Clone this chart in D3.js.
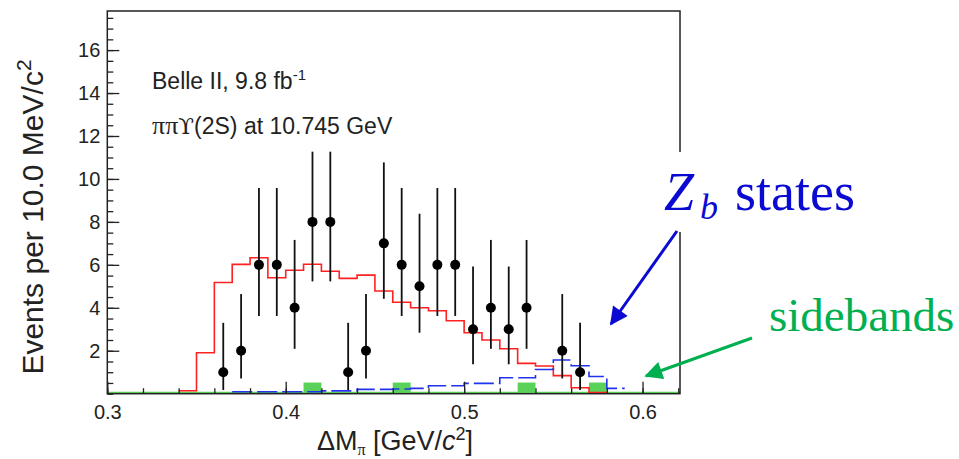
<!DOCTYPE html>
<html>
<head>
<meta charset="utf-8">
<script src="https://cdn.jsdelivr.net/npm/d3@7/dist/d3.min.js"></script>
<style>
  html, body { margin: 0; padding: 0; background: #fff; }
  svg { display: block; }
  text { font-family: "Liberation Sans", Arial, Helvetica, sans-serif; }
</style>
</head>
<body>
<svg id="chart" width="959" height="459"></svg>
<script>
// ΔM_π distribution: data, expected signal shapes and sideband estimate
const binWidth = 0.01;

// data points (bin centres, counts, asymmetric Poisson error limits)
const dataX     = [0.365, 0.375, 0.385, 0.395, 0.405, 0.415, 0.425, 0.435, 0.445, 0.455,
                   0.465, 0.475, 0.485, 0.495, 0.505, 0.515, 0.525, 0.535, 0.555, 0.565];
const dataCount = [1, 2, 6, 6, 4, 8, 8, 1, 2, 7, 6, 5, 6, 6, 3, 4, 3, 4, 2, 1];
const dataLow   = [0.17, 0.71, 3.62, 3.62, 2.09, 5.23, 5.23, 0.17, 0.71, 4.42,
                   3.62, 2.84, 3.62, 3.62, 1.37, 2.09, 1.37, 2.09, 0.71, 0.17];
const dataHigh  = [3.30, 4.64, 9.58, 9.58, 7.16, 11.27, 11.27, 3.30, 4.64, 10.77,
                   9.58, 8.38, 9.58, 9.58, 5.92, 7.16, 5.92, 7.16, 4.64, 3.30];

// non-resonant ππΥ(2S) shape (red), bins of 10 MeV starting at 0.34
const redStart  = 0.34;
const redValues = [0.14, 1.91, 5.18, 6.02, 6.33, 5.40, 5.75, 6.03, 5.70, 5.37, 5.52, 4.78,
                   4.26, 4.00, 3.86, 3.40, 2.84, 2.50, 2.09, 1.41, 1.29, 0.84, 0.28, 0.05];

// Z_b intermediate states shape (blue dashed), bins starting at 0.37
const blueStart  = 0.37;
const blueValues = [0.09, 0.09, 0.09, 0.09, 0.09, 0.13, 0.13, 0.20, 0.20, 0.22, 0.25,
                    0.37, 0.37, 0.48, 0.48, 0.74, 0.74, 1.13, 1.57, 1.30, 0.80, 0.25];

// sideband estimate (green filled bins)
const sideEdges = [0.41, 0.46, 0.53, 0.57];
const sideValue = [0.52, 0.52, 0.52, 0.52];

// axis ticks
const xMajor = [0.3, 0.4, 0.5, 0.6];
const xMinor = d3.range(0.30, 0.6201, 0.02);
const yMajor = [2, 4, 6, 8, 10, 12, 14, 16];
const yMinor = d3.range(0, 17.81, 0.5);

const svg = d3.select("#chart");
const x = d3.scaleLinear().domain([0.3, 0.621]).range([107.3, 680]);
const y = d3.scaleLinear().domain([0, 17.82]).range([393.7, 11]);

// helper: outline of a histogram as a step path
function stepPoints(start, values) {
  const pts = values.map((v, i) => [start + i * binWidth, v]);
  pts.push([start + values.length * binWidth, values[values.length - 1]]);
  return pts;
}
const stepLine = d3.line().x(d => x(d[0])).y(d => y(d[1])).curve(d3.curveStepAfter);

// green baseline of the sideband histogram
svg.append("line")
  .attr("x1", x(0.3)).attr("x2", x(0.621))
  .attr("y1", y(0) - 1).attr("y2", y(0) - 1)
  .attr("stroke", "#5ad25a").attr("stroke-width", 2);

// sideband bins
svg.append("g").selectAll("rect").data(sideEdges).join("rect")
  .attr("x", d => x(d))
  .attr("width", d => x(d + binWidth) - x(d))
  .attr("y", (d, i) => y(sideValue[i]))
  .attr("height", (d, i) => y(0) - y(sideValue[i]))
  .attr("fill", "#5ad25a");

// red histogram
svg.append("path")
  .attr("d", stepLine(stepPoints(redStart, redValues)))
  .attr("fill", "none").attr("stroke", "#ff2020").attr("stroke-width", 1.6);

// blue dashed histogram
svg.append("path")
  .attr("d", stepLine(stepPoints(blueStart, blueValues)))
  .attr("fill", "none").attr("stroke", "#2233ee").attr("stroke-width", 1.6)
  .attr("stroke-dasharray", "20,5");

// axes with inward ticks
const xAxisMinor = d3.axisBottom(x).tickValues(xMinor).tickSize(-5.5).tickSizeOuter(0).tickFormat("");
const xAxisMajor = d3.axisBottom(x).tickValues(xMajor).tickSize(-12).tickSizeOuter(0)
  .tickPadding(11).tickFormat(d3.format(".1f"));
const yAxisMinor = d3.axisLeft(y).tickValues(yMinor).tickSize(-6).tickSizeOuter(0).tickFormat("");
const yAxisMajor = d3.axisLeft(y).tickValues(yMajor).tickSize(-12).tickSizeOuter(0)
  .tickPadding(7).tickFormat(d3.format("d"));

function styleAxis(g) {
  g.select(".domain").remove();
  g.selectAll(".tick line").attr("stroke", "#222").attr("stroke-width", 1.3);
  g.selectAll(".tick text").attr("fill", "#222").style("font-size", "20px")
    .style("font-family", "'Liberation Sans', Arial, sans-serif");
}
svg.append("g").attr("transform", `translate(0,${y(0)})`).call(xAxisMinor).call(styleAxis);
svg.append("g").attr("transform", `translate(0,${y(0)})`).call(xAxisMajor).call(styleAxis);
svg.append("g").attr("transform", `translate(${x(0.3)},0)`).call(yAxisMinor).call(styleAxis);
svg.append("g").attr("transform", `translate(${x(0.3)},0)`).call(yAxisMajor).call(styleAxis);

// frame
svg.append("rect")
  .attr("x", x(0.3)).attr("y", y(17.82))
  .attr("width", x(0.621) - x(0.3)).attr("height", y(0) - y(17.82))
  .attr("fill", "none").attr("stroke", "#222").attr("stroke-width", 1.5);

// data error bars and markers
const pts = svg.append("g");
pts.selectAll("line").data(dataX).join("line")
  .attr("x1", d => x(d)).attr("x2", d => x(d))
  .attr("y1", (d, i) => y(dataLow[i])).attr("y2", (d, i) => y(dataHigh[i]))
  .attr("stroke", "#111").attr("stroke-width", 1.8);
pts.selectAll("circle").data(dataX).join("circle")
  .attr("cx", d => x(d)).attr("cy", (d, i) => y(dataCount[i]))
  .attr("r", 5).attr("fill", "#000");

// axis titles
const yTitle = svg.append("text")
  .attr("transform", "translate(43,217) rotate(-90)")
  .attr("text-anchor", "middle").style("font-size", "30px").attr("fill", "#222");
yTitle.append("tspan").text("Events per 10.0 MeV/c");
yTitle.append("tspan").attr("dy", -12).style("font-size", "21px").text("2");

const xTitle = svg.append("text")
  .attr("x", 395).attr("y", 450)
  .attr("text-anchor", "middle").style("font-size", "27px").attr("fill", "#222");
xTitle.append("tspan").text("ΔM");
xTitle.append("tspan").attr("dy", 5).style("font-size", "16px")
  .style("font-family", "'Liberation Serif', serif").text("π");
xTitle.append("tspan").attr("dy", -5).text(" [GeV/");
xTitle.append("tspan").style("font-style", "italic").text("c");
xTitle.append("tspan").attr("dy", -10).style("font-size", "18px").text("2");
xTitle.append("tspan").attr("dy", 10).text("]");

// experiment labels
const l1 = svg.append("text").attr("x", 152).attr("y", 89)
  .style("font-size", "23px").attr("fill", "#222");
l1.append("tspan").text("Belle II, 9.8 fb");
l1.append("tspan").attr("dy", -9).style("font-size", "15px").text("-1");

const l2 = svg.append("text").attr("x", 152).attr("y", 134)
  .style("font-size", "23px").attr("fill", "#222");
l2.append("tspan").style("font-family", "'Liberation Serif', serif").style("font-size", "26px").text("ππ");
l2.append("tspan").style("font-family", "'DejaVu Serif', serif").style("font-size", "23px").text("ϒ");
l2.append("tspan").text("(2S) at 10.745 GeV");

// annotations with arrows
const defs = svg.append("defs");
function arrowHead(id, color) {
  defs.append("marker").attr("id", id)
    .attr("viewBox", "0 0 10 10").attr("refX", 9).attr("refY", 5)
    .attr("markerWidth", 7).attr("markerHeight", 6).attr("orient", "auto")
    .attr("markerUnits", "strokeWidth")
    .append("path").attr("d", "M0,0 L10,5 L0,10 Z").attr("fill", color);
}
arrowHead("ahBlue", "#0a0ad2");
arrowHead("ahGreen", "#00b050");

// white box behind the Z_b label (hides the frame edge beneath it)
svg.append("rect").attr("x", 660).attr("y", 152).attr("width", 200).attr("height", 80)
  .attr("fill", "#fff");

const zbFont = "'Liberation Serif', 'Times New Roman', serif";
svg.append("text").attr("x", 664).attr("y", 210)
  .style("font-family", zbFont).style("font-style", "italic")
  .style("font-size", "54px").attr("fill", "#0a0ad2").text("Z");
svg.append("text").attr("x", 700).attr("y", 219)
  .style("font-family", zbFont).style("font-style", "italic")
  .style("font-size", "36px").attr("fill", "#0a0ad2").text("b");
svg.append("text").attr("x", 735).attr("y", 210)
  .style("font-family", zbFont)
  .style("font-size", "54px").attr("fill", "#0a0ad2").text("states");

svg.append("line")
  .attr("x1", 677).attr("y1", 231).attr("x2", 611).attr("y2", 324)
  .attr("stroke", "#0a0ad2").attr("stroke-width", 3).attr("marker-end", "url(#ahBlue)");

svg.append("text").attr("x", 769).attr("y", 331)
  .style("font-family", zbFont)
  .style("font-size", "47px").attr("fill", "#00b050").text("sidebands");

svg.append("line")
  .attr("x1", 752).attr("y1", 338).attr("x2", 646).attr("y2", 376)
  .attr("stroke", "#00b050").attr("stroke-width", 3).attr("marker-end", "url(#ahGreen)");
</script>
</body>
</html>
